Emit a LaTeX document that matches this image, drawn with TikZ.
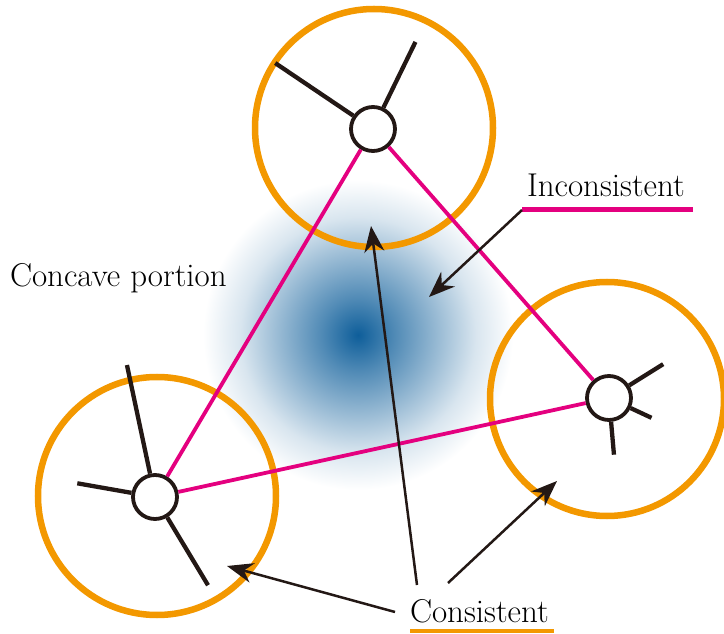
\documentclass[tikz,border=0pt]{standalone}
\usepackage{tikz}
\usetikzlibrary{arrows.meta}
\definecolor{ringorange}{HTML}{F39800}
\definecolor{linkpink}{HTML}{E4007F}
\definecolor{spokeblack}{HTML}{231815}
\definecolor{blobblue}{HTML}{0E5E9A}
\pgfdeclareradialshading{concave}{\pgfpoint{0bp}{0bp}}{color(0bp)=(blobblue); color(6bp)=(blobblue!72!white); color(13bp)=(blobblue!42!white); color(19bp)=(blobblue!16!white); color(25bp)=(white); color(50bp)=(white)}

\begin{document}
\begin{tikzpicture}[
			x=1pt,y=1pt,
			ring/.style={draw=ringorange,line width=6.5pt},
			joint/.style={circle,draw=spokeblack,line width=3.8pt,fill=white,minimum size=44pt,inner sep=0pt},
			spoke/.style={draw=spokeblack,line width=4.3pt},
			link/.style={draw=linkpink,line width=3.8pt},
			lbl/.style={inner sep=0pt,outer sep=0pt,font=\fontsize{33}{40}\selectfont},
			arr/.style={-{Stealth[length=26pt,width=20pt]},line width=2.5pt,spokeblack}
			]
			\useasboundingbox (0,0) rectangle (724,633);
			% concave portion
			\shade[shading=concave] (358,298) circle (155);
			% rings
			\draw[ring] (374,505) circle (119);
			\draw[ring] (607,234) circle (117);
			\draw[ring] (157,137) circle (119);
			% joints
			\node[joint] (n1) at (373,504) {};
			\node[joint] (n2) at (609,235) {};
			\node[joint] (n3) at (155,136) {};
			\draw[link] (n1)--(n3);
			\draw[link] (n1)--(n2);
			\draw[link] (n3)--(n2);
			\foreach \a/\l in {146/94,64/73} \draw[spoke] (n1.\a) -- ++(\a:\l);
			\foreach \a/\l in {32/40,-25/23,-85/33} \draw[spoke] (n2.\a) -- ++(\a:\l);
			\foreach \a/\l in {102/111,170/55,-59/79} \draw[spoke] (n3.\a) -- ++(\a:\l);
			% labels
			\node[lbl,anchor=base west] (concave) at (10,346) {Concave portion};
			\node[lbl,anchor=base west] (incons) at (527,436) {Inconsistent};
			\node[lbl,anchor=base west] (cons) at (410,11) {Consistent};
			\draw[link,line width=5pt] ([xshift=-5pt,yshift=-13pt]incons.base west) coordinate (incul) -- ([xshift=8pt,yshift=-13pt]incons.base east);
			\draw[ring,line width=4pt] ([yshift=-9pt]cons.base west) -- ([xshift=5pt,yshift=-9pt]cons.base east);
			% arrows
			\coordinate (tipInc) at (429,336);
			\coordinate (tipTop) at (371,407);
			\coordinate (tipLeft) at (227,67);
			\coordinate (tipRight) at (557,152);
			\coordinate (tailTop) at (417,48);
			\coordinate (tailLeft) at (395,21);
			\coordinate (tailRight) at (448,50);
			\draw[arr] (incul) -- (tipInc);
			\draw[arr] (tailTop) -- (tipTop);
			\draw[arr] (tailLeft) -- (tipLeft);
			\draw[arr] (tailRight) -- (tipRight);
		\end{tikzpicture}
\end{document}
